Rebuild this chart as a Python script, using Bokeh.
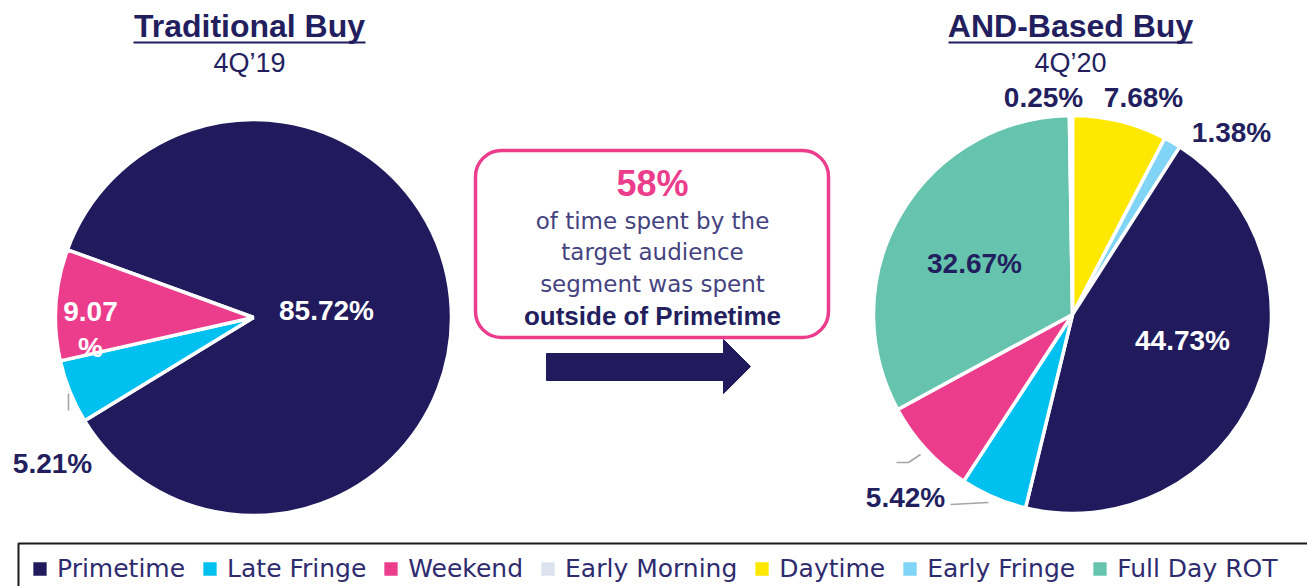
import math
from bokeh.plotting import figure
from bokeh.models import Range1d, Legend, LegendItem, BoxAnnotation, ColumnDataSource
from bokeh.core.properties import value
from bokeh.embed import file_html
from bokeh.resources import INLINE

# ---------------- data ----------------
categories = ["Primetime", "Late Fringe", "Weekend", "Early Morning",
              "Daytime", "Early Fringe", "Full Day ROT"]
cat_colors = ["#211B5E", "#00C0F0", "#EC3D8C", "#DCE3EF",
              "#FFE800", "#80D4F5", "#66C4AE"]

trad_order = ["Primetime", "Late Fringe", "Weekend"]
trad_values = [85.72, 5.21, 9.07]

and_order = ["Daytime", "Early Fringe", "Primetime", "Late Fringe",
             "Weekend", "Full Day ROT", "Early Morning"]
and_values = [7.68, 1.38, 44.73, 5.42, 7.87, 32.67, 0.25]

titles = ["Traditional Buy", "AND-Based Buy"]
subtitles = ["4Q\u201919", "4Q\u201920"]

callout_pct = "58%"
callout_lines = ["of time spent by the", "target audience", "segment was spent"]
callout_bold = "outside of Primetime"

# ---------------- layout ----------------
W, H = 1307, 586
NAVY = "#231F5F"
BOLD = value("Liberation Sans")


def sy(y):
    return H - y


p = figure(width=W, height=H, x_range=Range1d(0, W), y_range=Range1d(0, H),
           output_backend="svg", toolbar_location=None, title=None,
           x_axis_type=None, y_axis_type=None, min_border=0)
p.grid.visible = False
p.outline_line_color = None
p.background_fill_color = "white"
p.border_fill_color = "white"

color_of = dict(zip(categories, cat_colors))


def pie(order, vals, cx, cy, r, start_deg):
    total = sum(vals)
    a0 = math.radians(start_deg)
    starts, ends = [], []
    cum = 0.0
    for v in vals:
        starts.append(a0 - 2 * math.pi * (cum + v) / total)
        ends.append(a0 - 2 * math.pi * cum / total)
        cum += v
    src = ColumnDataSource(dict(cat=order, val=vals, start=starts, end=ends,
                                color=[color_of[c] for c in order]))
    return p.wedge(x=cx, y=sy(cy), radius=r, start_angle="start", end_angle="end",
                   fill_color="color", line_color="white", line_width=3.5, source=src)


pie(trad_order, trad_values, 253, 317, 198, 160)
r_and = pie(and_order, and_values, 1072, 314, 199, 90)

# ---------------- titles ----------------
for txt, sub, cx, x0, x1 in [(titles[0], subtitles[0], 249, 133, 365),
                             (titles[1], subtitles[1], 1070, 948, 1192)]:
    p.text(x=[cx], y=[sy(25)], text=[txt], text_font=BOLD, text_font_style="bold",
           text_font_size="32px", text_color=NAVY, text_align="center",
           text_baseline="middle")
    p.segment(x0=[x0], y0=[sy(42)], x1=[x1], y1=[sy(42)], line_color=NAVY, line_width=2)
    p.text(x=[cx], y=[sy(62)], text=[sub], text_font=BOLD, text_font_size="27px",
           text_color=NAVY, text_align="center", text_baseline="middle")

# ---------------- slice labels ----------------
def fmt(v):
    return "{:.2f}%".format(v)

lab_x = [326, 52, 90, 1043, 1143, 1231, 974, 1182, 905]
lab_y = [310, 463, 329, 97, 97, 132, 263, 340, 497]
lab_t = [fmt(trad_values[0]), fmt(trad_values[1]), "9.07\n%",
         fmt(and_values[6]), fmt(and_values[0]), fmt(and_values[1]),
         fmt(and_values[5]), fmt(and_values[2]), fmt(and_values[3])]
lab_c = ["white", NAVY, "white", NAVY, NAVY, NAVY, NAVY, "white", NAVY]
p.text(x=lab_x, y=[sy(v) for v in lab_y], text=lab_t, text_color=lab_c,
       text_font=BOLD, text_font_style="bold", text_font_size="28px",
       text_align="center", text_baseline="middle", text_line_height=1.18)

# leader lines
p.multi_line(xs=[[68, 68], [920, 908, 896], [950, 988]],
             ys=[[sy(393), sy(410)], [sy(454), sy(462), sy(462)], [sy(504), sy(502)]],
             line_color="#A6A6A6", line_width=1.6)

# ---------------- callout box ----------------
box = BoxAnnotation(left=475, right=828, top=sy(150), bottom=sy(337),
                    border_radius=26, fill_color="white", fill_alpha=1.0,
                    line_color="#EC3D8C", line_alpha=1.0, line_width=3.5,
                    level="underlay")
p.add_layout(box)
p.text(x=[652], y=[sy(183)], text=[callout_pct], text_font=BOLD, text_font_style="bold",
       text_font_size="36px", text_color="#EC3D8C", text_align="center",
       text_baseline="middle")
p.text(x=[652, 652, 652], y=[sy(220), sy(251), sy(283)], text=callout_lines,
       text_font=value("DejaVu Sans"), text_font_size="23px", text_color="#45437F",
       text_align="center", text_baseline="middle")
p.text(x=[652], y=[sy(315)], text=[callout_bold], text_font=BOLD, text_font_style="bold",
       text_font_size="26px", text_color=NAVY, text_align="center", text_baseline="middle")

# arrow
p.patch(x=[546, 723, 723, 750, 723, 723, 546],
        y=[sy(353), sy(353), sy(339), sy(366), sy(393), sy(380), sy(380)],
        fill_color="#211B5E", line_color="#211B5E")

# ---------------- legend ----------------
frame = BoxAnnotation(left=18, right=W + 20, top=sy(543), bottom=-20,
                      fill_alpha=0, line_color="#1A1A1A", line_alpha=1.0, line_width=2,
                      level="underlay")
p.add_layout(frame)

items = [LegendItem(label=c, renderers=[r_and], index=and_order.index(c)) for c in categories]
legend = Legend(items=items, orientation="horizontal", location=(29, 3),
                glyph_width=21, glyph_height=21, label_standoff=7, spacing=14,
                padding=10, margin=0, border_line_color=None,
                background_fill_alpha=0,
                label_text_font="DejaVu Sans", label_text_font_size="25px",
                label_text_color="#2E2C6E")
p.add_layout(legend)

open("out.html", "w").write(file_html(p, INLINE))
